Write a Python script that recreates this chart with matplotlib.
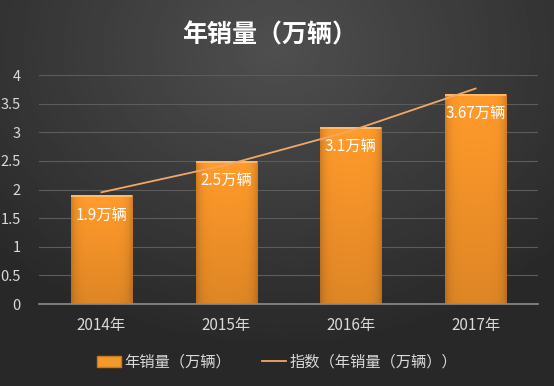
import numpy as np
import matplotlib
matplotlib.use('Agg')
import matplotlib.pyplot as plt
from matplotlib.lines import Line2D
from matplotlib.patches import Patch

plt.rcParams['font.family'] = ['Noto Sans CJK SC', 'DejaVu Sans']

# data
years = ['2014年', '2015年', '2016年', '2017年']
sales = [1.9, 2.5, 3.1, 3.67]
bar_labels = ['1.9万辆', '2.5万辆', '3.1万辆', '3.67万辆']
yticks = [0, 0.5, 1, 1.5, 2, 2.5, 3, 3.5, 4]
ytick_labels = ['0', '0.5', '1', '1.5', '2', '2.5', '3', '3.5', '4']

fig = plt.figure(figsize=(5.54, 3.86), dpi=100)

# dark radial background
bg = fig.add_axes([0, 0, 1, 1])
gx, gy = np.meshgrid(np.linspace(-1, 1, 300), np.linspace(-1, 1, 200))
r = np.sqrt((gx * 0.9) ** 2 + ((gy + 0.75) * 0.8) ** 2)
shade = np.clip(0.31 - 0.12 * r, 0.16, 0.31)
bg.imshow(shade, cmap='gray', vmin=0, vmax=1, extent=[0, 1, 0, 1],
          aspect='auto', origin='upper')
bg.set_xlim(0, 1)
bg.set_ylim(0, 1)
bg.axis('off')

ax = fig.add_axes([0.0704, 0.2124, 0.9007, 0.593])
ax.patch.set_alpha(0)

x = np.arange(len(years))
bars = ax.bar(x, sales, width=0.49, color='#f39a2a', zorder=2)

# bar gradient: darker edges, darker bottom
hx = np.linspace(-1, 1, 60)
vy = np.linspace(0, 1, 80)[:, None]
for b in bars:
    x0, w, h = b.get_x(), b.get_width(), b.get_height()
    edge = 1 - 0.18 * np.abs(hx) ** 6
    tone = edge[None, :] * (0.86 + 0.14 * vy)
    rgb = np.zeros((80, 60, 3))
    rgb[..., 0] = np.clip(0.99 * tone + 0.02, 0, 1)
    rgb[..., 1] = np.clip(0.61 * tone, 0, 1)
    rgb[..., 2] = np.clip(0.17 * tone, 0, 1)
    im = ax.imshow(rgb, extent=[x0, x0 + w, 0, h], aspect='auto',
                   origin='lower', zorder=2.1)
    im.set_clip_path(b)
    ax.plot([x0, x0 + w], [h - 0.02, h - 0.02], color='#ffc27a', lw=1.2,
            zorder=2.2, solid_capstyle='butt')

for xi, v, lab in zip(x, sales, bar_labels):
    ax.annotate(lab, (xi, v), xytext=(0, -15), textcoords='offset points',
                ha='center', va='center', color='white', fontsize=11, zorder=4)

# exponential trendline
k, c = np.polyfit(x + 1, np.log(sales), 1)
trend = np.exp(c + k * (x + 1))
ax.plot(x, trend, color='#f0a868', lw=1.3, zorder=3)

ax.set_xlim(-0.5, 3.5)
ax.set_ylim(0, 4)
ax.set_yticks(yticks)
ax.set_yticklabels(ytick_labels)
ax.set_xticks(x)
ax.set_xticklabels(years)
ax.grid(axis='y', color='#5c5c5c', lw=0.8, zorder=0)
ax.set_axisbelow(True)
for s in ['top', 'right', 'left']:
    ax.spines[s].set_visible(False)
ax.spines['bottom'].set_color('#8c8c8c')
ax.spines['bottom'].set_linewidth(1.2)
ax.tick_params(axis='both', length=0, colors='#d9d9d9', labelsize=10.5)
ax.tick_params(axis='x', pad=9, labelsize=11)
ax.tick_params(axis='y', pad=13)

fig.text(0.487, 0.908, '年销量（万辆）', ha='center', va='center',
         color='white', fontsize=18, fontweight='bold')

handles = [Patch(facecolor='#f39a2a', edgecolor='#c97a1e'),
           Line2D([0], [0], color='#f0a868', lw=1.3)]
leg = fig.legend(handles, ['年销量（万辆）', '指数（年销量（万辆））'],
                 loc='center', bbox_to_anchor=(0.5, 0.062), ncol=2,
                 frameon=False, fontsize=11, handlelength=1.6,
                 handletextpad=0.2, columnspacing=2.0)
for t in leg.get_texts():
    t.set_color('#d9d9d9')

fig.savefig('out.png', dpi=100)
